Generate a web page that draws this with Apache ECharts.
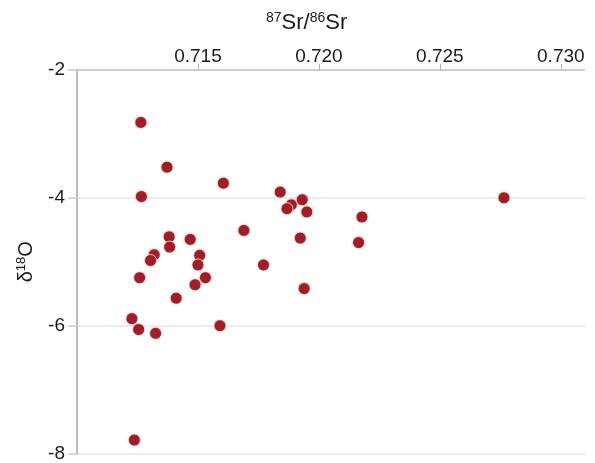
<!DOCTYPE html>
<html>
<head>
<meta charset="utf-8">
<script src="https://cdn.jsdelivr.net/npm/echarts@6/dist/echarts.min.js"></script>
<style>
html,body{margin:0;padding:0;background:#fff;}
#chart{width:595px;height:463px;}
</style>
</head>
<body>
<div id="chart"></div>
<script>
// 87Sr/86Sr values
const srRatio = [
  0.71264, 0.71372, 0.71605, 0.71266, 0.71840, 0.71931, 0.71886, 0.71868,
  0.71950, 0.72178, 0.72164, 0.72765, 0.71690, 0.71923, 0.71381, 0.71468,
  0.71383, 0.71319, 0.71304, 0.71507, 0.71500, 0.71259, 0.71531, 0.71488,
  0.71410, 0.71771, 0.71939, 0.71227, 0.71255, 0.71325, 0.71591, 0.71237
];
// delta 18O values
const d18O = [
  -2.82, -3.52, -3.77, -3.98, -3.91, -4.03, -4.11, -4.17,
  -4.22, -4.30, -4.70, -4.00, -4.51, -4.63, -4.61, -4.65,
  -4.77, -4.89, -4.98, -4.90, -5.05, -5.25, -5.25, -5.36,
  -5.57, -5.05, -5.42, -5.89, -6.06, -6.12, -6.00, -7.79
];
const xTicks = [0.715, 0.720, 0.725, 0.730];
const yTicks = [-2, -4, -6, -8];

const points = srRatio.map((v, i) => [v, d18O[i]]);
const FONT = 'Liberation Sans, Arial, sans-serif';

const chart = echarts.init(document.getElementById('chart'), null, {renderer: 'canvas'});
chart.setOption({
  animation: false,
  backgroundColor: '#fff',
  title: {
    text: '{sup|87}{m|Sr/}{sup|86}{m|Sr}',
    left: 266,
    top: 11,
    padding: 0,
    textStyle: {
      fontFamily: FONT,
      fontWeight: 'normal',
      rich: {
        m: {fontSize: 22, lineHeight: 24, color: '#1a1a1a', fontFamily: FONT, fontWeight: 'normal'},
        sup: {fontSize: 14, lineHeight: 13, verticalAlign: 'top', color: '#1a1a1a', fontFamily: FONT, fontWeight: 'normal'}
      }
    }
  },
  grid: {show: false, borderWidth: 0, left: 77, right: 10, top: 70, bottom: 8, containLabel: false},
  xAxis: {
    type: 'value',
    position: 'top',
    min: 0.710,
    max: 0.731,
    interval: 0.005,
    axisLine: {show: false},
    axisTick: {show: true, inside: false, length: 6, lineStyle: {color: '#b5b5b5', width: 1}, customValues: xTicks},
    splitLine: {show: false, showMinLine: false, showMaxLine: false},
    splitArea: {show: false},
    minorSplitLine: {show: false},
    axisLabel: {
      show: true,
      margin: 4,
      fontSize: 19,
      color: '#1a1a1a',
      fontFamily: FONT,
      customValues: xTicks,
      formatter: function (v) {
        return v.toFixed(3);
      }
    }
  },
  yAxis: {
    type: 'value',
    min: -8,
    max: -2,
    interval: 2,
    name: '{d|δ}{sup|18}{d|O}',
    nameLocation: 'middle',
    nameRotate: 90,
    nameGap: 40,
    nameTextStyle: {
      fontFamily: FONT,
      rich: {
        d: {fontSize: 20, lineHeight: 22, color: '#1a1a1a', fontFamily: FONT},
        sup: {fontSize: 13, lineHeight: 12, verticalAlign: 'top', color: '#1a1a1a', fontFamily: FONT}
      }
    },
    axisLine: {show: true, onZero: false, lineStyle: {color: '#bababa', width: 2}},
    axisTick: {show: true, inside: false, length: 9, lineStyle: {color: '#cccccc', width: 1.5}},
    splitLine: {show: true, lineStyle: {color: ['#e6e6e6', '#e6e6e6', '#e6e6e6', '#bdbdbd'], width: 1.5}},
    axisLabel: {
      margin: 12,
      fontSize: 19,
      color: '#1a1a1a',
      fontFamily: FONT,
      formatter: function (v) {
        return yTicks.indexOf(Math.round(v)) >= 0 ? String(Math.round(v)) : '';
      }
    }
  },
  series: [{
    type: 'scatter',
    data: points,
    symbol: 'circle',
    symbolSize: 12,
    itemStyle: {
      color: '#a31d26',
      opacity: 1,
      borderColor: 'rgba(255,225,225,0.8)',
      borderWidth: 1
    }
  }]
});
</script>
</body>
</html>
